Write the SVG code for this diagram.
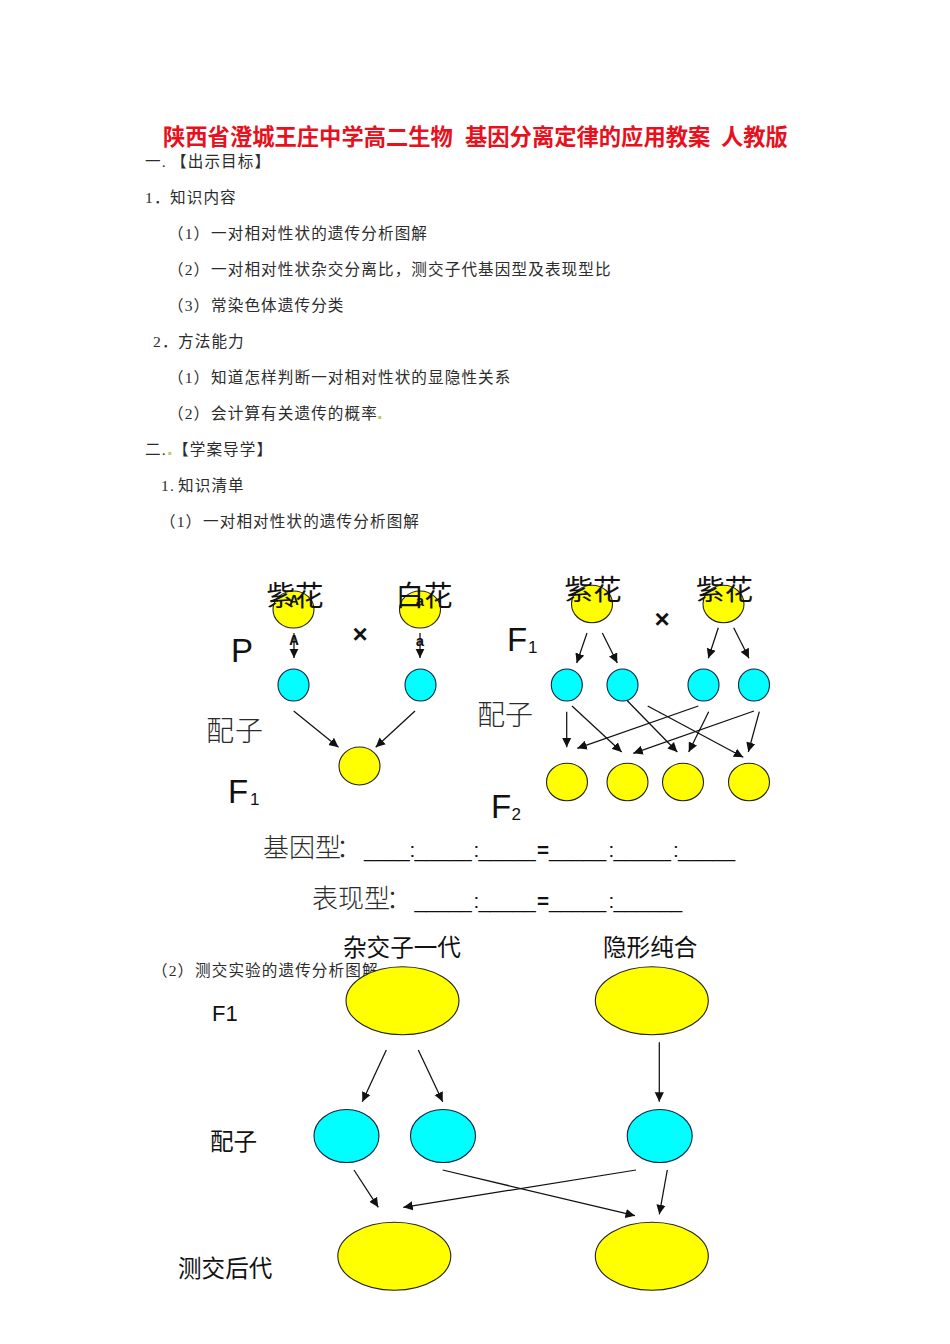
<svg xmlns="http://www.w3.org/2000/svg" width="950" height="1344" viewBox="0 0 950 1344">
<style>
text{font-family:"Liberation Serif","Noto Sans CJK SC",serif}
.b{font-size:15.6px;letter-spacing:1.1px;fill:#2c2c2c}
.t{font-size:22.3px;font-weight:700;fill:#e8101c;font-family:"Liberation Sans","Noto Sans CJK SC",sans-serif}
.h{font-size:28.5px;fill:#111;font-family:"Liberation Sans","Noto Sans CJK SC",sans-serif}
.l{font-size:33px;fill:#111;font-family:"Liberation Sans","Noto Sans CJK SC",sans-serif}
.s{font-size:17px;fill:#111;font-family:"Liberation Sans",sans-serif}
.c{font-size:28px;fill:#2c2c2c;font-weight:300;font-family:"Noto Sans CJK SC",sans-serif}
.g{font-size:26px}
.u{font-size:20.6px;fill:#111;font-family:"Liberation Sans",sans-serif}
.e{font-weight:700}
.m{font-size:23.6px;fill:#111;font-family:"Liberation Sans","Noto Sans CJK SC",sans-serif}
.x{font-size:26px;font-weight:700;fill:#111;font-family:"Liberation Sans",sans-serif;text-anchor:middle}
.k{font-size:15px;font-weight:700;fill:#111;font-family:"Liberation Mono",monospace;text-anchor:middle}
.o{fill:#c9c26e;font-weight:700;font-size:20px;font-family:"Liberation Sans",sans-serif}
.y{fill:#ff0;stroke:#222;stroke-width:1.1}
.q{fill:#0ff;stroke:#124;stroke-width:1.1}
#connectors line{stroke:#111;stroke-width:1.25;marker-end:url(#a)}
</style>
<defs><marker id="a" markerUnits="userSpaceOnUse" markerWidth="10" markerHeight="10" viewBox="0 0 10 10" refX="9.5" refY="5" orient="auto"><path d="M0 0.4L9.5 5L0 9.6z" fill="#111"/></marker></defs>
<g id="heading">
<text class="t" x="163" y="145">陕西省澄城王庄中学高二生物</text>
<text class="t" x="465" y="145">基因分离定律的应用教案</text>
<text class="t" x="721" y="145">人教版</text>
</g>
<g id="body">
<text class="b" y="167"><tspan x="145">一.</tspan><tspan x="171">【出示目标】</tspan></text>
<text class="b" y="203"><tspan x="145">1．</tspan><tspan x="170">知识内容</tspan></text>
<text class="b" x="168" y="239">（1）<tspan x="211">一对相对性状的遗传分析图解</tspan></text>
<text class="b" x="168" y="275">（2）<tspan x="211">一对相对性状杂交分离比，测交子代基因型及表现型比</tspan></text>
<text class="b" x="168" y="311">（3）<tspan x="211">常染色体遗传分类</tspan></text>
<text class="b" y="347"><tspan x="153">2．</tspan><tspan x="178">方法能力</tspan></text>
<text class="b" x="168" y="383">（1）<tspan x="211">知道怎样判断一对相对性状的显隐性关系</tspan></text>
<text class="b" x="168" y="419">（2）<tspan x="211">会计算有关遗传的概率</tspan><tspan x="377" class="o">.</tspan></text>
<text class="b" y="455"><tspan x="145">二.</tspan><tspan x="167" class="o">.</tspan><tspan x="173">【学案导学】</tspan></text>
<text class="b" y="491"><tspan x="161">1.</tspan><tspan x="178">知识清单</tspan></text>
<text class="b" x="160" y="527">（1）<tspan x="203">一对相对性状的遗传分析图解</tspan></text>
<text class="b" x="152" y="976">（2）<tspan x="195">测交实验的遗传分析图解</tspan></text>
</g>
<g id="node-p1"><ellipse class="y" cx="293.5" cy="609.5" rx="20.5" ry="18.5"/><text class="k" x="294" y="605">A</text><text class="h" x="266.5" y="606">紫花</text></g>
<g id="node-p2"><ellipse class="y" cx="420" cy="609.5" rx="20.5" ry="18.5"/><text class="k" x="420" y="606">a</text><text class="h" x="395.5" y="606">白花</text></g>
<g id="node-g1"><ellipse class="q" cx="293.5" cy="685" rx="15.5" ry="16"/></g>
<g id="node-g2"><ellipse class="q" cx="420.5" cy="685" rx="15.5" ry="16"/></g>
<g id="node-f1"><ellipse class="y" cx="359.5" cy="766" rx="20.5" ry="19"/></g>
<g id="node-r1"><ellipse class="y" cx="592" cy="604" rx="20.5" ry="18.7"/><text class="h" x="564.5" y="600">紫花</text></g>
<g id="node-r2"><ellipse class="y" cx="723.5" cy="604" rx="20.5" ry="18.7"/><text class="h" x="696" y="600">紫花</text></g>
<g id="node-r3"><ellipse class="q" cx="566.8" cy="685" rx="15.5" ry="16"/></g>
<g id="node-r4"><ellipse class="q" cx="622.5" cy="685" rx="15.5" ry="16"/></g>
<g id="node-r5"><ellipse class="q" cx="703.5" cy="685" rx="15.5" ry="16"/></g>
<g id="node-r6"><ellipse class="q" cx="754" cy="685" rx="15.5" ry="16"/></g>
<g id="node-r7"><ellipse class="y" cx="567" cy="782" rx="20.5" ry="18.7"/></g>
<g id="node-r8"><ellipse class="y" cx="627.5" cy="782" rx="20.5" ry="18.7"/></g>
<g id="node-r9"><ellipse class="y" cx="683" cy="782" rx="20.5" ry="18.7"/></g>
<g id="node-r10"><ellipse class="y" cx="749" cy="782" rx="20.5" ry="18.7"/></g>
<g id="node-t1"><ellipse class="y" cx="402.5" cy="1000.7" rx="56.5" ry="34"/></g>
<g id="node-t2"><ellipse class="y" cx="651.8" cy="1000.7" rx="56.5" ry="34"/></g>
<g id="node-t3"><ellipse class="q" cx="346.5" cy="1136" rx="32.5" ry="26.5"/></g>
<g id="node-t4"><ellipse class="q" cx="443" cy="1136" rx="32.5" ry="26.5"/></g>
<g id="node-t5"><ellipse class="q" cx="659.7" cy="1136" rx="32.5" ry="26.5"/></g>
<g id="node-t6"><ellipse class="y" cx="394.3" cy="1256.3" rx="56.5" ry="34"/></g>
<g id="node-t7"><ellipse class="y" cx="651.8" cy="1256.3" rx="56.5" ry="34"/></g>
<g id="connectors">
<line x1="294" y1="633" x2="294" y2="658"/>
<line x1="420" y1="633" x2="420" y2="658"/>
<line x1="293.7" y1="711" x2="338.5" y2="747.3"/>
<line x1="415" y1="711" x2="375.7" y2="747.3"/>
<line x1="587" y1="633" x2="576.7" y2="663"/>
<line x1="602.3" y1="633" x2="617.3" y2="663"/>
<line x1="718.3" y1="627.7" x2="708.3" y2="658.3"/>
<line x1="733.7" y1="627.7" x2="749" y2="658.3"/>
<line x1="566.7" y1="711.7" x2="566.7" y2="747.3"/>
<line x1="572" y1="706" x2="621.7" y2="752"/>
<line x1="627.3" y1="700.7" x2="677.3" y2="752"/>
<line x1="647.7" y1="706" x2="743.3" y2="757.3"/>
<line x1="698.3" y1="706" x2="577.3" y2="748.3"/>
<line x1="708.7" y1="711.7" x2="688.7" y2="752"/>
<line x1="754" y1="711" x2="633.3" y2="753.3"/>
<line x1="759.3" y1="711.7" x2="748.3" y2="752"/>
<line x1="386.3" y1="1050" x2="362.3" y2="1101.7"/>
<line x1="418.3" y1="1050" x2="442.7" y2="1101.7"/>
<line x1="659.3" y1="1042.3" x2="659.3" y2="1101.7"/>
<line x1="354" y1="1170" x2="378.3" y2="1207.3"/>
<line x1="636" y1="1170" x2="403.3" y2="1207.3"/>
<line x1="442.7" y1="1170" x2="635" y2="1215.7"/>
<line x1="667.3" y1="1170" x2="659.3" y2="1214.3"/>
</g>
<g id="labels">
<text class="k" x="294" y="645">A</text>
<text class="k" x="420" y="646">a</text>
<text class="x" x="360" y="643">×</text>
<text class="x" x="662" y="628">×</text>
<text class="l" x="231" y="662">P</text>
<text class="c" x="206" y="741" letter-spacing="1">配子</text>
<text class="l" x="228" y="803">F<tspan class="s" x="250" y="805">1</tspan></text>
<text class="l" x="507" y="651">F<tspan class="s" x="528" y="653">1</tspan></text>
<text class="c" x="477" y="725">配子</text>
<text class="l" x="491" y="818">F<tspan class="s" x="511.5" y="820">2</tspan></text>
<text class="c g" x="263" y="857">基因型<tspan x="336">：</tspan></text>
<text class="u" y="857"><tspan x="364">____</tspan><tspan x="409.5">:</tspan><tspan x="414.4">_____</tspan><tspan x="473.5">:</tspan><tspan x="478.4">_____</tspan><tspan class="e" x="537">=</tspan><tspan x="549">_____</tspan><tspan x="608.5">:</tspan><tspan x="613.6">_____</tspan><tspan x="673">:</tspan><tspan x="678">_____</tspan></text>
<text class="c g" x="312" y="908">表现型<tspan x="386">：</tspan></text>
<text class="u" y="908"><tspan x="414.4">_____</tspan><tspan x="473.5">:</tspan><tspan x="478.4">_____</tspan><tspan class="e" x="537">=</tspan><tspan x="549">_____</tspan><tspan x="608.5">:</tspan><tspan x="613.6">______</tspan></text>
<text class="m" x="343" y="956">杂交子一代</text>
<text class="m" x="603" y="956">隐形纯合</text>
<text class="m" x="212" y="1021" style="font-size:22px">F1</text>
<text class="m" x="210" y="1150">配子</text>
<text class="m" x="178" y="1277">测交后代</text>
</g>
</svg>
